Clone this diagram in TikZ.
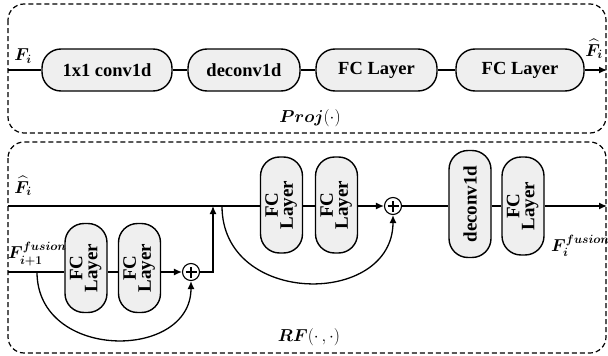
\documentclass[tikz,border=0pt]{standalone}
\usepackage{amsmath,bm}
\usepackage{fontspec}
\setmainfont{Liberation Serif}
\usetikzlibrary{arrows.meta}
\definecolor{boxfill}{HTML}{EFEFEF}
\newcommand{\fcl}{\rotatebox{90}{\begin{tabular}{@{}c@{}}FC\\[-4pt]Layer\end{tabular}}}
\begin{document}
\begin{tikzpicture}[x=1pt,y=-1pt,
  hbox/.style={draw,line width=1.4pt,fill=boxfill,rounded corners=19pt,minimum height=42pt,inner sep=0pt,font=\fontsize{18.5}{20}\selectfont\bfseries},
  vbox/.style={draw,line width=1.4pt,fill=boxfill,rounded corners=19pt,minimum width=42pt,inner sep=0pt,font=\fontsize{19}{19}\selectfont\bfseries},
  frame/.style={draw,line width=1.2pt,dash pattern=on 5pt off 3pt,rounded corners=16pt},
  conn/.style={line width=1.3pt},
  arr/.style={line width=1.3pt,-{Latex[length=8pt,width=7pt]}},
  lab/.style={font=\fontsize{18}{20}\selectfont,inner sep=0pt},
  plusnode/.style={draw,circle,line width=1.1pt,minimum size=17pt,inner sep=0pt,fill=white}]
\useasboundingbox (0,0) rectangle (608,356);
% frames
\draw[frame] (8,4) rectangle (606,133);
\draw[frame] (8,142) rectangle (606,353);
% top row
\node[hbox,minimum width=130pt] (conv) at (107,70) {1x1 conv1d};
\node[hbox,minimum width=112pt] (dec) at (244,70) {deconv1d};
\node[hbox,minimum width=121pt] (fc1) at (376.5,70) {FC Layer};
\node[hbox,minimum width=128pt] (fc2) at (520,70) {FC Layer};
\coordinate (tin) at (8,70);
\coordinate (tout) at (607,70);
\draw[conn] (tin) -- (conv.west);
\draw[conn] (conv.east) -- (dec.west);
\draw[conn] (dec.east) -- (fc1.west);
\draw[conn] (fc1.east) -- (fc2.west);
\draw[arr] (fc2.east) -- (tout);
\node[lab] (lfi) at (23,56) {$\bm{F}_{\bm{i}}$};
\node[lab] (lhfi) at (594,49) {$\widehat{\bm{F}}_{\bm{i}}$};
\node[lab] (lproj) at (310,118) {$\bm{Proj}(\cdot)$};
% bottom
\coordinate (min) at (8,206);
\coordinate (lin) at (8,272);
\coordinate (mout) at (607,206);
\node[vbox,minimum height=89pt] (fcA) at (86,268) {\fcl};
\node[vbox,minimum height=89pt] (fcB) at (139.5,268) {\fcl};
\node[plusnode] (p1) at (191,272) {};
\draw[line width=1.1pt] ([xshift=-5.5pt]p1.center) -- ([xshift=5.5pt]p1.center) ([yshift=-5.5pt]p1.center) -- ([yshift=5.5pt]p1.center);
\node[vbox,minimum height=96pt] (fcC) at (281.5,205) {\fcl};
\node[vbox,minimum height=96pt] (fcD) at (336.5,205) {\fcl};
\node[plusnode] (p2) at (393,206) {};
\draw[line width=1.1pt] ([xshift=-5.5pt]p2.center) -- ([xshift=5.5pt]p2.center) ([yshift=-5.5pt]p2.center) -- ([yshift=5.5pt]p2.center);
\node[vbox,minimum height=107pt] (dec2) at (470,204) {\rotatebox{90}{deconv1d}};
\node[vbox,minimum height=98pt] (fcE) at (523,206) {\fcl};
\coordinate (b1) at (37,272);
\coordinate (up) at (213,272);
\coordinate (upend) at (213,206);
\coordinate (b2) at (222,206);
% lower path
\draw[conn] (lin) -- (fcA.west |- lin);
\draw[conn] (fcA.east |- lin) -- (fcB.west |- lin);
\draw[arr] (fcB.east |- lin) -- (p1.west);
\draw[arr] (p1.east) -- (up) -- (upend);
\draw[arr] (b1) .. controls (37,361) and (191,361) .. (p1.south);
% main path
\draw[conn] (min) -- (fcC.west |- min);
\draw[conn] (fcC.east |- min) -- (fcD.west |- min);
\draw[arr] (fcD.east |- min) -- (p2.west);
\draw[arr] (b2) .. controls (222,307) and (393,307) .. (p2.south);
\draw[conn] (p2.east) -- (dec2.west |- p2.east);
\draw[conn] (dec2.east |- fcE.west) -- (fcE.west);
\draw[arr] (fcE.east) -- (mout);
\node[lab] (lhfi2) at (23,186) {$\widehat{\bm{F}}_{\bm{i}}$};
\node[lab,anchor=west] (lf1) at (8,254) {$\bm{F}_{\bm{i+1}}^{\bm{fusion}}$};
\node[lab,anchor=west] (lf2) at (551,246) {$\bm{F}_{\bm{i}}^{\bm{fusion}}$};
\node[lab] (lrf) at (309,337) {$\bm{RF}(\cdot\,,\cdot)$};
\end{tikzpicture}
\end{document}
